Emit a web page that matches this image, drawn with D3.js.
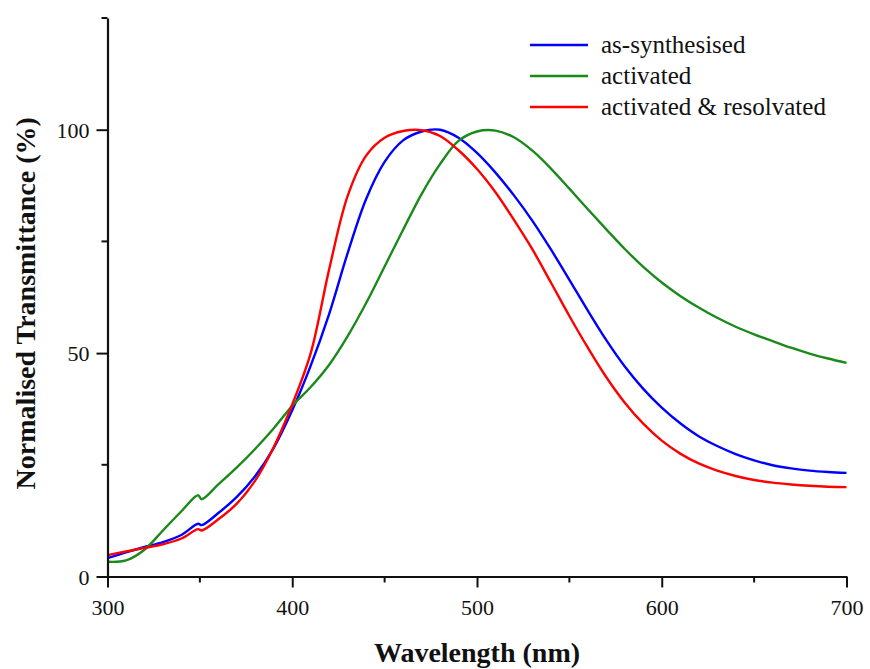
<!DOCTYPE html>
<html>
<head>
<meta charset="utf-8">
<script src="https://cdn.jsdelivr.net/npm/d3@7"></script>
<style>
  html, body { margin: 0; padding: 0; background: #fff; }
  svg { display: block; }
  text { font-family: "Liberation Serif", "Times New Roman", serif; fill: #111; }
</style>
</head>
<body>
<svg id="chart" width="870" height="669"></svg>
<script>
// Wavelength grid (nm); 349/351 bracket the lamp-change step near 350 nm
const wavelength = [300, 310, 320, 330, 340, 349, 351, 360, 370, 380, 390, 400, 410, 420, 430, 440, 450, 460, 470, 480, 490, 500, 510, 520, 530, 540, 550, 560, 570, 580, 590, 600, 610, 620, 630, 640, 650, 660, 670, 680, 690, 700];

// Normalised transmittance (%) for each sample
const asSynthesised = [4.1, 5.4, 6.6, 7.7, 9.3, 11.8, 11.5, 14.2, 17.8, 22.5, 28.8, 37.2, 47.2, 58.8, 72.4, 84.5, 92.8, 97.6, 99.6, 100.0, 98.2, 94.8, 90.4, 85.3, 79.6, 73.2, 66.4, 59.5, 52.9, 47.0, 42.0, 37.8, 34.3, 31.4, 29.2, 27.4, 26.0, 24.9, 24.2, 23.7, 23.4, 23.2];
const activated = [3.3, 3.6, 6.0, 10.3, 14.6, 18.2, 17.3, 20.6, 24.4, 28.6, 33.2, 38.2, 42.4, 47.4, 53.8, 61.2, 69.4, 77.6, 85.6, 92.3, 97.5, 99.6, 99.8, 98.3, 95.3, 91.3, 86.8, 82.2, 77.7, 73.3, 69.3, 65.8, 62.8, 60.2, 57.9, 55.9, 54.2, 52.7, 51.2, 49.9, 48.8, 47.8];
const activatedResolvated = [4.8, 5.6, 6.4, 7.2, 8.5, 10.6, 10.3, 12.8, 16.3, 21.5, 29.0, 38.5, 50.0, 68.8, 85.2, 94.2, 98.2, 99.7, 99.9, 98.6, 95.4, 91.2, 86.0, 79.8, 73.2, 65.8, 58.3, 51.2, 44.6, 38.9, 34.2, 30.4, 27.5, 25.3, 23.7, 22.5, 21.6, 21.0, 20.6, 20.3, 20.1, 20.0];

const seriesNames = ["as-synthesised", "activated", "activated & resolvated"];
const seriesColors = ["#0000ff", "#1a8a1a", "#ff0000"];
const seriesValues = [asSynthesised, activated, activatedResolvated];

const xMajorTicks = [300, 400, 500, 600, 700];
const xMinorTicks = [350, 450, 550, 650];
const yMajorTicks = [0, 50, 100];
const yMinorTicks = [25, 75, 125];

const svg = d3.select("#chart");
const plotLeft = 107.5, plotRight = 846.5, plotTop = 18, plotBottom = 576.5;

const x = d3.scaleLinear().domain([300, 700]).range([plotLeft, plotRight]);
const y = d3.scaleLinear().domain([0, 125]).range([plotBottom, plotTop]);

// Curves
const line = d3.line()
  .x(d => x(d[0]))
  .y(d => y(d[1]))
  .curve(d3.curveCatmullRom.alpha(0.5));

seriesValues.forEach((vals, i) => {
  svg.append("path")
    .datum(wavelength.map((w, j) => [w, vals[j]]))
    .attr("fill", "none")
    .attr("stroke", seriesColors[i])
    .attr("stroke-width", 2.4)
    .attr("stroke-linejoin", "round")
    .attr("d", line);
});

// X axis
const xAxis = svg.append("g").attr("transform", `translate(0,${plotBottom})`);
xAxis.call(d3.axisBottom(x).tickValues(xMajorTicks).tickSize(11).tickSizeOuter(0).tickPadding(8).tickFormat(d3.format("d")));
xAxis.append("g").selectAll("line").data(xMinorTicks).join("line")
  .attr("x1", d => x(d)).attr("x2", d => x(d)).attr("y1", 0).attr("y2", 6)
  .attr("stroke", "#111");

// Y axis
const yAxis = svg.append("g").attr("transform", `translate(${plotLeft},0)`);
yAxis.call(d3.axisLeft(y).tickValues(yMajorTicks).tickSize(11).tickSizeOuter(0).tickPadding(7).tickFormat(d3.format("d")));
yAxis.append("g").selectAll("line").data(yMinorTicks).join("line")
  .attr("y1", d => y(d)).attr("y2", d => y(d)).attr("x1", 0).attr("x2", -6)
  .attr("stroke", "#111");

[xAxis, yAxis].forEach(g => {
  g.selectAll(".domain").attr("stroke", "#111").attr("stroke-width", 2.2);
  g.selectAll("line").attr("stroke", "#111").attr("stroke-width", 2);
  g.selectAll("text").attr("font-family", "Liberation Serif, Times New Roman, serif").attr("font-size", 22).attr("fill", "#111");
});
xAxis.selectAll(".tick text").attr("dy", "0.9em");
yAxis.selectAll(".tick text").attr("dy", "0.35em");

// Axis titles
svg.append("text")
  .attr("x", (plotLeft + plotRight) / 2)
  .attr("y", 662)
  .attr("text-anchor", "middle")
  .attr("font-weight", "bold")
  .attr("font-size", 28)
  .text("Wavelength (nm)");

svg.append("text")
  .attr("transform", `translate(35,${(plotTop + plotBottom) / 2 + 6}) rotate(-90)`)
  .attr("text-anchor", "middle")
  .attr("font-weight", "bold")
  .attr("font-size", 28)
  .text("Normalised Transmittance (%)");

// Legend
const legend = svg.append("g");
seriesNames.forEach((name, i) => {
  const ly = 45 + i * 31;
  legend.append("line")
    .attr("x1", 530).attr("x2", 588).attr("y1", ly).attr("y2", ly)
    .attr("stroke", seriesColors[i]).attr("stroke-width", 2.4);
  legend.append("text")
    .attr("x", 601).attr("y", ly)
    .attr("dy", "0.33em")
    .attr("font-size", 25)
    .text(name);
});
</script>
</body>
</html>
